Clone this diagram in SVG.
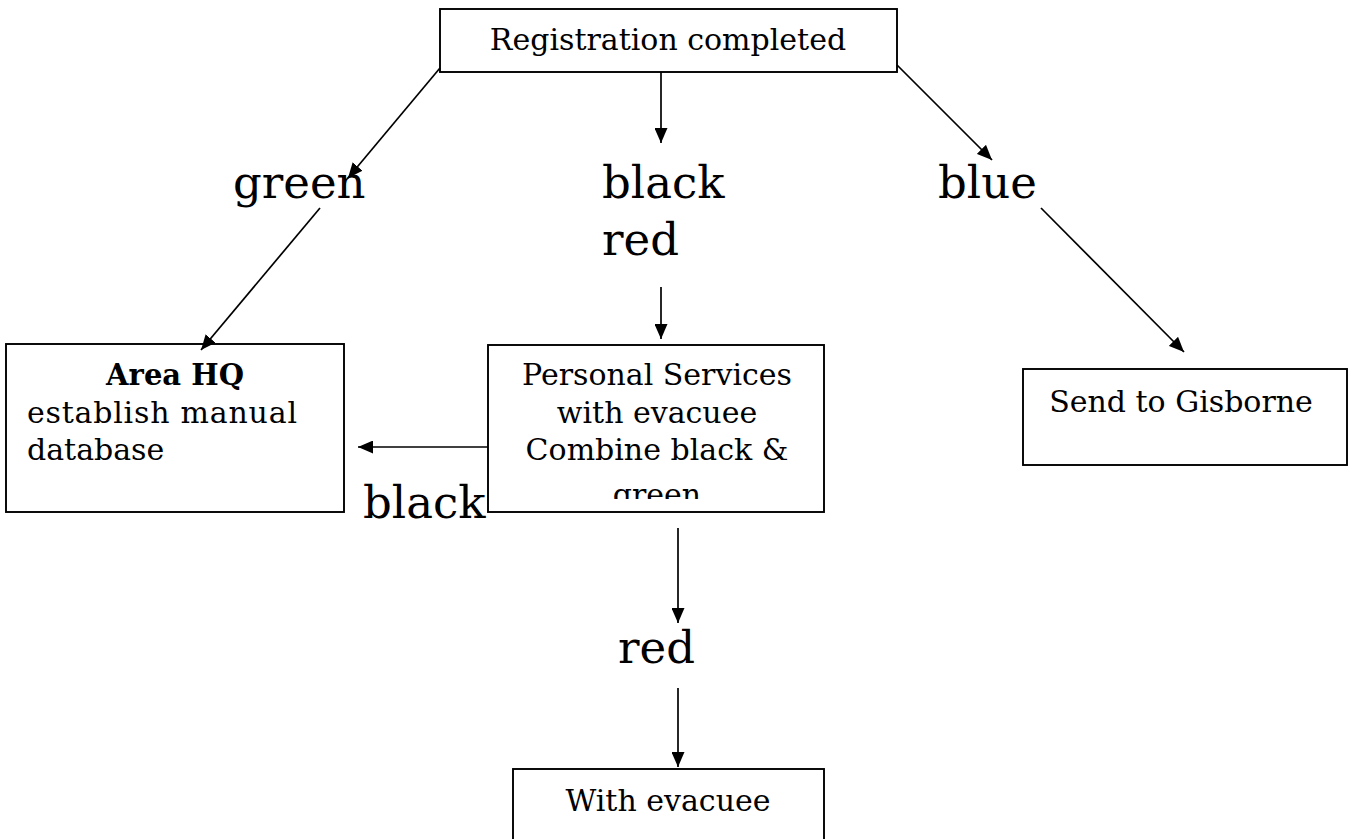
<svg xmlns="http://www.w3.org/2000/svg" width="1362" height="839" viewBox="0 0 1362 839">
<style>
.box{fill:#fff;stroke:#000;stroke-width:1.9}
.t{font-family:"DejaVu Serif","Liberation Serif",serif;font-size:30px;fill:#000}
.b{font-weight:bold;font-size:29px}
.lbl{font-family:"DejaVu Serif","Liberation Serif",serif;font-size:45px;fill:#000}
.c{text-anchor:middle}
.conn line{stroke:#000;stroke-width:1.7;marker-end:url(#ah)}
</style>
<defs>
<marker id="ah" markerUnits="userSpaceOnUse" markerWidth="15" markerHeight="13" refX="15" refY="6.5" orient="auto">
<path d="M0,0 L15,6.5 L0,13 z" fill="#000"/>
</marker>
<clipPath id="psclip"><rect x="488" y="345" width="336" height="154"/></clipPath>
</defs>
<rect width="1362" height="839" fill="#fff"/>

<g id="registration">
<rect class="box" x="440" y="9" width="457" height="63"/>
<text class="t c" x="668" y="50">Registration completed</text>
</g>

<g id="area-hq">
<rect class="box" x="6" y="344" width="338" height="168"/>
<text class="t c b" x="175" y="385">Area HQ</text>
<text class="t" x="27" y="423" textLength="270">establish manual</text>
<text class="t" x="27" y="460">database</text>
</g>

<g id="personal-services">
<rect class="box" x="488" y="345" width="336" height="167"/>
<g clip-path="url(#psclip)">
<text class="t c" x="657" y="385">Personal Services</text>
<text class="t c" x="657" y="423">with evacuee</text>
<text class="t c" x="657" y="460">Combine black &amp;</text>
<text class="t c" x="657" y="505">green</text>
</g>
</g>

<g id="gisborne">
<rect class="box" x="1023" y="369" width="324" height="96"/>
<text class="t c" x="1181" y="412">Send to Gisborne</text>
</g>

<g id="with-evacuee">
<rect class="box" x="513" y="769" width="311" height="90"/>
<text class="t c" x="668" y="811">With evacuee</text>
</g>

<g id="labels">
<text class="lbl" x="233" y="198">green</text>
<text class="lbl" x="602" y="198">black</text>
<text class="lbl" x="602" y="255">red</text>
<text class="lbl" x="938" y="198">blue</text>
<text class="lbl" x="363" y="518">black</text>
<text class="lbl" x="618" y="663">red</text>
</g>

<g id="connectors" class="conn">
<line x1="440" y1="68" x2="348" y2="178"/>
<line x1="320" y1="208" x2="201" y2="350"/>
<line x1="661" y1="72" x2="661" y2="143"/>
<line x1="661" y1="287" x2="661" y2="339"/>
<line x1="897" y1="65" x2="992" y2="160"/>
<line x1="1041" y1="208" x2="1184" y2="352"/>
<line x1="488" y1="447" x2="358" y2="447"/>
<line x1="678" y1="528" x2="678" y2="623"/>
<line x1="678" y1="688" x2="678" y2="767"/>
</g>
</svg>
